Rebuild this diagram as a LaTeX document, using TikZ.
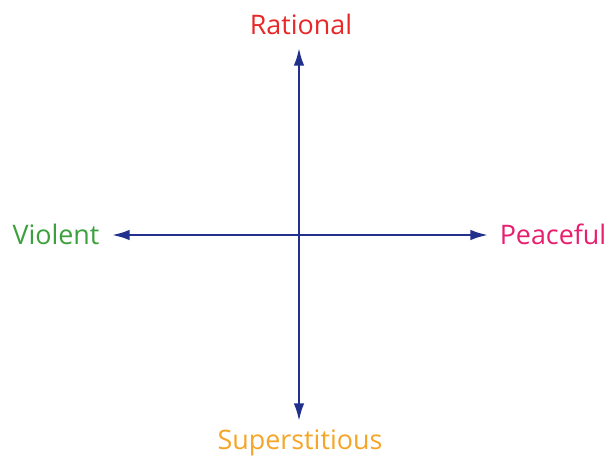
\documentclass[tikz,border=0pt]{standalone}
\usepackage{fontspec}
\setmainfont{Open Sans}
\usetikzlibrary{arrows.meta}
\definecolor{axisblue}{RGB}{32,48,140}
\definecolor{ratred}{RGB}{232,40,40}
\definecolor{violgreen}{RGB}{60,160,60}
\definecolor{peacepink}{RGB}{232,30,110}
\definecolor{superorange}{RGB}{245,165,40}
\begin{document}
\begin{tikzpicture}[x=0.02cm,y=-0.02cm,>={Latex[length=10pt,width=6pt]}]
  \tikzstyle{axis}=[draw=axisblue,line width=1.3pt,->]
  \tikzstyle{lbl}=[font=\fontsize{15.3}{17}\selectfont,inner sep=0pt]
  \useasboundingbox (0,0) rectangle (609,460);
  % axis ends
  \coordinate (c) at (299,235);
  \coordinate (up) at (299,48);
  \coordinate (down) at (299,421);
  \coordinate (left) at (112,235);
  \coordinate (right) at (488,235);
  \draw[axis] (c) -- (up);
  \draw[axis] (c) -- (down);
  \draw[axis] (c) -- (left);
  \draw[axis] (c) -- (right);
  % labels
  \node[lbl,text=ratred] (rational) at (301,24) {Rational};
  \node[lbl,text=violgreen] (violent) at (56,234) {Violent};
  \node[lbl,text=peacepink] (peaceful) at (553,234) {Peaceful};
  \node[lbl,text=superorange] (superst) at (300,443) {Superstitious};
\end{tikzpicture}
\end{document}
